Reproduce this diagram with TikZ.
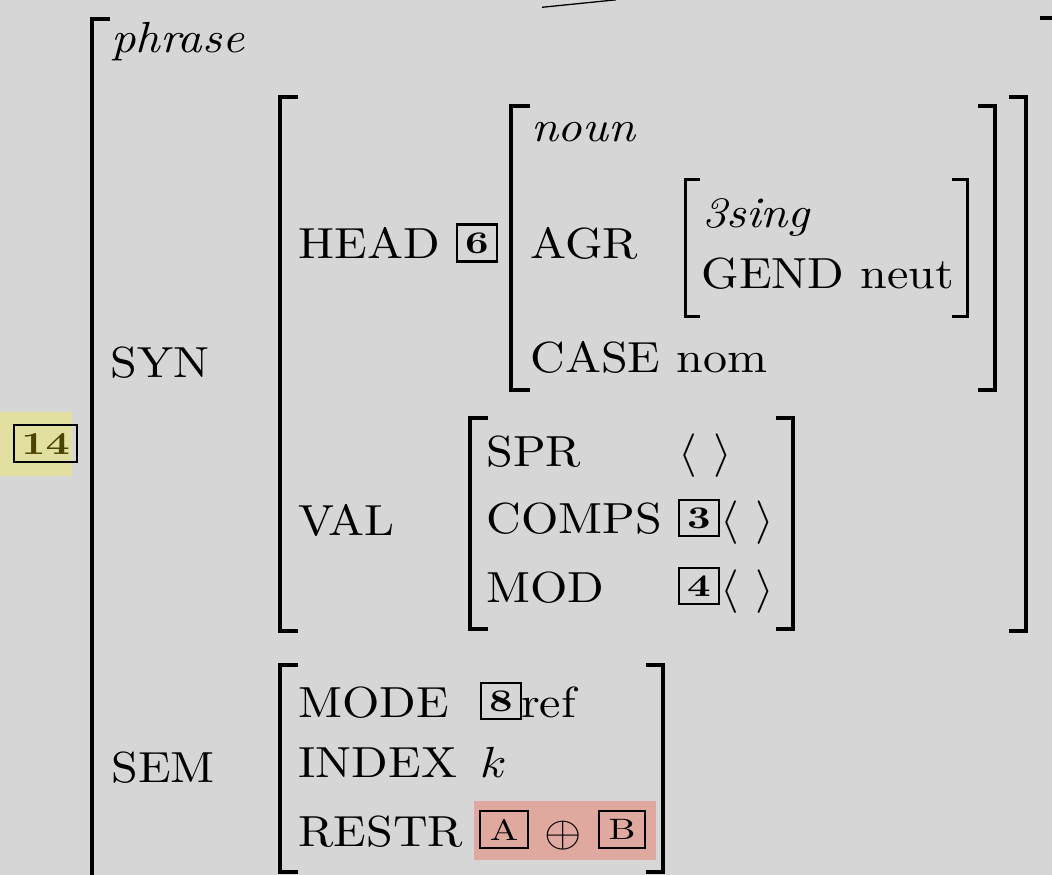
\documentclass[tikz,border=0pt]{standalone}
\usepackage{graphicx}
\definecolor{bg}{HTML}{D6D6D6}
\definecolor{yhl}{HTML}{E2E0A0}
\definecolor{rhl}{HTML}{E0A9A0}
\definecolor{olivetx}{HTML}{4A4200}
\newcommand{\tx}[1]{\scalebox{4.8}[4.35]{#1}}
\newcommand{\tg}[1]{\scalebox{4.1}[3.15]{\bfseries #1}}
\newcommand{\tl}[1]{\scalebox{3.8}[2.95]{#1}}
\newcommand{\brk}[5][4pt]{\draw[line width=#1] (#5,#3) -- (#2,#3) -- (#2,#4) -- (#5,#4);}
\tikzset{
  lbl/.style={anchor=base west, inner sep=0pt, outer sep=0pt},
  tagb/.style={draw, line width=2.2pt, inner sep=0pt, anchor=center},
}
\begin{document}
\begin{tikzpicture}[x=1pt,y=-1pt]
\useasboundingbox (0,0) rectangle (1052,875);
\fill[bg] (0,0) rectangle (1052,875);
\clip (0,0) rectangle (1052,875);

% tree line
\coordinate (l1) at (542,7.3);
\coordinate (l2) at (616,-0.2);
\draw[line width=1.3pt] (l1) -- (l2);

% highlights
\fill[yhl] (0,412) rectangle (72,476);
\fill[rhl] (474,801) rectangle (656,860);

% brackets: x, top, bottom, serif end
\brk{92}{19}{900}{110}
\brk{1058}{18.5}{900}{1040}
\brk{280}{97}{631}{298}
\brk{1026}{97}{631}{1009}
\brk{511}{106}{390}{530}
\brk{995}{106}{390}{978}
\brk[3pt]{685}{179}{316.5}{700}
\brk[3pt]{967}{179}{316.5}{952}
\brk{470}{418}{629}{488}
\brk{793}{418}{629}{776}
\brk{280}{665}{872}{298}
\brk{663}{665}{872}{646}

% tag 14
\node[tagb, minimum width=63pt, minimum height=37pt] (t14) at (45.5,443.5)
  {\scalebox{4.2}[3.2]{\bfseries\color{olivetx}14}};

% texts
\node[lbl] (phrase) at (111,53) {\tx{\textit{phrase}}};
\node[lbl] (syn) at (110.5,377) {\tx{SYN}};
\node[lbl] (head) at (298.5,258) {\tx{HEAD}};
\node[tagb, minimum width=40pt, minimum height=37pt] (t6) at (477,243) {\tg{6}};
\node[lbl] (noun) at (531,141) {\tx{\textit{noun}}};
\node[lbl] (agr) at (530.5,258) {\tx{AGR}};
\node[lbl] (sing) at (702,227) {\tx{\textit{3sing}}};
\node[lbl] (gend) at (701.5,288) {\tx{GEND neut}};
\node[lbl] (case) at (530.5,372) {\tx{CASE nom}};

\node[lbl] (val) at (298,535) {\tx{VAL}};
\node[lbl] (spr) at (486.5,466) {\tx{SPR}};
\node[lbl] (sprv) at (678.7,466) {\tx{$\langle\ \rangle$}};
\node[lbl] (comps) at (486.5,533) {\tx{COMPS}};
\node[tagb, minimum width=40pt, minimum height=36pt] (t3) at (699,518) {\tg{3}};
\node[lbl] (compsv) at (720.7,533) {\tx{$\langle\ \rangle$}};
\node[lbl] (mod) at (486.5,602) {\tx{MOD}};
\node[tagb, minimum width=40pt, minimum height=36pt] (t4) at (699,586) {\tg{4}};
\node[lbl] (modv) at (720.7,602) {\tx{$\langle\ \rangle$}};

\node[lbl] (sem) at (111.5,782) {\tx{SEM}};
\node[lbl] (mode) at (298.5,717) {\tx{MODE}};
\node[tagb, minimum width=40pt, minimum height=36pt] (t8) at (501,701) {\tg{8}};
\node[lbl] (ref) at (521,717) {\tx{ref}};
\node[lbl] (index) at (298.5,777) {\tx{INDEX}};
\node[lbl] (k) at (480,777) {\tx{$k$}};
\node[lbl] (restr) at (298.5,846) {\tx{RESTR}};
\node[tagb, minimum width=48pt, minimum height=37pt] (ta) at (504,829.5) {\tl{A}};
\node[lbl] (oplus) at (544.3,846) {\tx{$\oplus$}};
\node[tagb, minimum width=46pt, minimum height=37pt] (tb) at (622,829.5) {\tl{B}};
\end{tikzpicture}
\end{document}
